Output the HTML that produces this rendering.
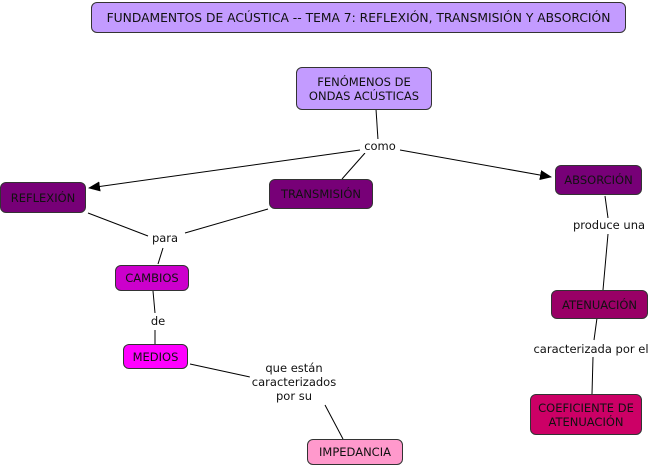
<!DOCTYPE html>
<html><head><meta charset="utf-8"><style>
body{margin:0;width:655px;height:467px;background:#fff;position:relative;overflow:hidden;font-family:"DejaVu Sans","Liberation Sans",sans-serif;font-size:11.5px;color:#111}
.n{position:absolute;box-sizing:border-box;border:1px solid #333;border-radius:6px;display:flex;align-items:center;justify-content:center;text-align:center;line-height:14px;white-space:nowrap}
.l{position:absolute;background:#fff;text-align:center;line-height:14px;transform:translateX(-50%);white-space:nowrap}
svg{position:absolute;left:0;top:0}
</style></head><body>
<svg width="655" height="467">
<defs><marker id="a" markerWidth="12" markerHeight="10" refX="11" refY="5" orient="auto" markerUnits="userSpaceOnUse"><path d="M0,0 L12,5 L0,10z" fill="#000"/></marker></defs>
<g stroke="#000" stroke-width="1" fill="none">
<line x1="376" y1="109" x2="378" y2="140"/>
<line x1="360" y1="150" x2="89" y2="188" marker-end="url(#a)"/>
<line x1="365" y1="153" x2="342" y2="179"/>
<line x1="400" y1="150" x2="551" y2="177" marker-end="url(#a)"/>
<line x1="88" y1="213" x2="148" y2="236"/>
<line x1="268" y1="209" x2="185" y2="233"/>
<line x1="163" y1="248" x2="158" y2="264"/>
<line x1="153" y1="291" x2="155" y2="313"/>
<line x1="155" y1="330" x2="155" y2="344"/>
<line x1="190" y1="364" x2="250" y2="377"/>
<line x1="325" y1="405" x2="343" y2="439"/>
<line x1="605" y1="196" x2="608" y2="218"/>
<line x1="608" y1="234" x2="603" y2="290"/>
<line x1="597" y1="318" x2="594" y2="340"/>
<line x1="593" y1="357" x2="592" y2="394"/>
</g></svg>
<div class="n" style="left:91px;top:2px;width:535px;height:31px;background:#c39bff;font-size:12.3px">FUNDAMENTOS DE ACÚSTICA -- TEMA 7: REFLEXIÓN, TRANSMISIÓN Y ABSORCIÓN</div>
<div class="n" style="left:296px;top:67px;width:136px;height:43px;background:#c39bff">FENÓMENOS DE<br>ONDAS ACÚSTICAS</div>
<div class="l" style="left:380px;top:139px">como</div>
<div class="n" style="left:0;top:182px;width:86px;height:31px;background:#770077">REFLEXIÓN</div>
<div class="n" style="left:269px;top:179px;width:104px;height:30px;background:#770077">TRANSMISIÓN</div>
<div class="n" style="left:555px;top:165px;width:87px;height:30px;background:#770077">ABSORCIÓN</div>
<div class="l" style="left:165px;top:231px">para</div>
<div class="n" style="left:115px;top:265px;width:74px;height:26px;background:#cc00cc">CAMBIOS</div>
<div class="l" style="left:158px;top:314px">de</div>
<div class="n" style="left:123px;top:344px;width:65px;height:25px;background:#ff00ff">MEDIOS</div>
<div class="l" style="left:294px;top:361px;padding:0 2px">que están<br>caracterizados<br>por su</div>
<div class="n" style="left:307px;top:439px;width:96px;height:26px;background:#ff99cc">IMPEDANCIA</div>
<div class="l" style="left:609px;top:218px">produce una</div>
<div class="n" style="left:551px;top:290px;width:97px;height:29px;background:#990066">ATENUACIÓN</div>
<div class="l" style="left:591px;top:342px">caracterizada por el</div>
<div class="n" style="left:530px;top:394px;width:112px;height:41px;background:#cc0066">COEFICIENTE DE<br>ATENUACIÓN</div>
</body></html>
